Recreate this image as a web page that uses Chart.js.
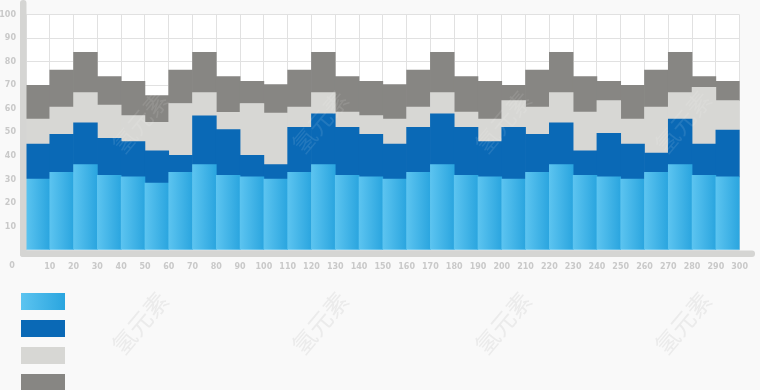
<!DOCTYPE html>
<html>
<head>
<meta charset="utf-8">
<script src="https://cdn.jsdelivr.net/npm/chart.js@4"></script>
<style>
  html, body { margin: 0; padding: 0; background: #f9f9f9; }
  #wrap { width: 760px; height: 390px; }
</style>
</head>
<body>
<div id="wrap"><canvas id="stack"></canvas></div>
<script>
// 30 bins of width 10 (0-300)
var categories = [];
for (var i = 0; i < 30; i++) categories.push((i * 10) + '-' + (i * 10 + 10));

// stacked values (segment heights)
var lightBlue = [30.2, 33, 36.3, 31.8, 31.1, 28.4, 33, 36.3, 31.8, 31.1,
                 30.2, 33, 36.3, 31.8, 31.1, 30.2, 33, 36.3, 31.8, 31.1,
                 30.2, 33, 36.3, 31.8, 31.1, 30.2, 33, 36.3, 31.8, 31.1];
var darkBlue = [14.8, 16.2, 17.8, 15.7, 15, 13.8, 7.2, 20.7, 19.4, 9.1,
                6.1, 19.2, 21.6, 20.4, 18.1, 14.8, 19.2, 21.6, 20.4, 15,
                22, 16.2, 17.8, 10.4, 18.5, 14.8, 8.2, 19.4, 13.2, 19.9];
var lightGray = [10.7, 11.6, 12.8, 14.1, 11, 12.1, 22.1, 9.9, 7.3, 22.1,
                 21.9, 8.6, 9, 6.4, 7.9, 10.7, 8.6, 9, 6.4, 9.6,
                 11.3, 11.6, 12.8, 16.4, 13.9, 10.7, 19.6, 11.2, 24.2, 12.5];
var darkGray = [14.3, 15.7, 17.1, 12.1, 14.6, 11.4, 14.2, 17.1, 15.2, 9.4,
                12.1, 15.7, 17.1, 15.1, 14.6, 14.6, 15.7, 17.1, 15.1, 16,
                6.5, 15.7, 17.1, 15.1, 8.2, 14.3, 15.7, 17.1, 4.5, 8.2];

var yTicks = { min: 0, max: 100, step: 10 };
var xTicks = { min: 0, max: 300, step: 10 };
var watermark = '氢元素';

var tickColor = '#c9c9c9';
var gridColor = '#e1e1e1';
var frameColor = '#d5d5d3';

function blueGradient(c, x0, x1) {
    var g = c.createLinearGradient(x0, 0, x1, 0);
    g.addColorStop(0, '#5cc4f0');
    g.addColorStop(1, '#2aa5df');
    return g;
}

function lightBlueFill(ctx) {
    var chart = ctx.chart;
    if (!chart.chartArea || ctx.dataIndex === undefined) return '#3fb4e8';
    var sx = chart.scales.x;
    var cx = sx.getPixelForValue(ctx.dataIndex);
    var w = sx.width / categories.length;
    return blueGradient(chart.ctx, cx - w / 2, cx + w / 2);
}

// custom frame, legend swatches and watermarks
var decor = {
    id: 'decor',
    beforeDraw: function(chart) {
        var c = chart.ctx, a = chart.chartArea;
        c.save();
        c.fillStyle = '#ffffff';
        c.fillRect(a.left, a.top, a.right - a.left, a.bottom - a.top);
        c.restore();
    },
    afterDatasetsDraw: function(chart) {
        var c = chart.ctx, a = chart.chartArea;
        c.save();
        c.fillStyle = frameColor;
        c.beginPath();
        c.roundRect(20, 0, 6.5, a.bottom + 7, 3);
        c.fill();
        c.beginPath();
        c.roundRect(20, a.bottom + 0.5, 735, 6.5, 3);
        c.fill();

        // origin label
        c.fillStyle = tickColor;
        c.font = 'bold 8px "DejaVu Sans"';
        c.textAlign = 'center';
        c.textBaseline = 'middle';
        c.fillText('0', 12, 266);

        // legend swatches (no text in the original)
        var sets = chart.data.datasets;
        for (var i = 0; i < sets.length; i++) {
            var y = 293 + i * 27;
            c.fillStyle = i === 0 ? blueGradient(c, 21, 65) : sets[i].backgroundColor;
            c.fillRect(21, y, 44, 17);
        }

        // watermarks
        c.font = '24px "Noto Sans CJK SC"';
        var cols = [140, 320, 503, 683];
        for (var k = 0; k < cols.length; k++) {
            c.save();
            c.translate(cols[k], 323);
            c.rotate(-Math.PI / 3.6);
            c.fillStyle = 'rgba(205,205,205,0.32)';
            c.fillText(watermark, 0, 0);
            c.restore();
            c.save();
            c.translate(cols[k], 122);
            c.rotate(-Math.PI / 3.6);
            c.fillStyle = 'rgba(255,255,255,0.1)';
            c.fillText(watermark, 0, 0);
            c.restore();
        }
        c.restore();
    }
};

var ctx = document.getElementById('stack').getContext('2d');
var chart = new Chart(ctx, {
    type: 'bar',
    data: {
        labels: categories,
        datasets: [
            { label: 'A', data: lightBlue, backgroundColor: lightBlueFill },
            { label: 'B', data: darkBlue, backgroundColor: '#0a69b6' },
            { label: 'C', data: lightGray, backgroundColor: '#d7d7d4' },
            { label: 'D', data: darkGray, backgroundColor: '#878683' }
        ]
    },
    options: {
        responsive: true,
        maintainAspectRatio: false,
        animation: false,
        layout: { padding: { top: 12, right: 19, bottom: 0, left: 0 } },
        datasets: {
            bar: { barPercentage: 1, categoryPercentage: 1, borderWidth: 0 }
        },
        plugins: {
            legend: { display: false },
            tooltip: { enabled: false }
        },
        scales: {
            x: {
                stacked: true,
                display: false
            },
            x2: {
                type: 'linear',
                position: 'bottom',
                offset: false,
                min: xTicks.min,
                max: xTicks.max,
                afterFit: function(s) { s.height = 140; },
                grid: { color: gridColor, drawTicks: false, offset: false },
                border: { display: false },
                ticks: {
                    stepSize: xTicks.step,
                    autoSkip: false,
                    maxRotation: 0,
                    padding: 12,
                    color: tickColor,
                    font: { family: 'DejaVu Sans', size: 8, weight: 'bold' },
                    callback: function(v) { return v === 0 ? '' : v; }
                }
            },
            y: {
                stacked: true,
                min: yTicks.min,
                max: yTicks.max,
                afterFit: function(s) { s.width = 26; },
                grid: { color: gridColor, drawTicks: false },
                border: { display: false },
                ticks: {
                    stepSize: yTicks.step,
                    padding: 10,
                    color: tickColor,
                    font: { family: 'DejaVu Sans', size: 8, weight: 'bold' },
                    callback: function(v) { return v === 0 ? '' : v; }
                }
            }
        }
    },
    plugins: [decor]
});
</script>
</body>
</html>
